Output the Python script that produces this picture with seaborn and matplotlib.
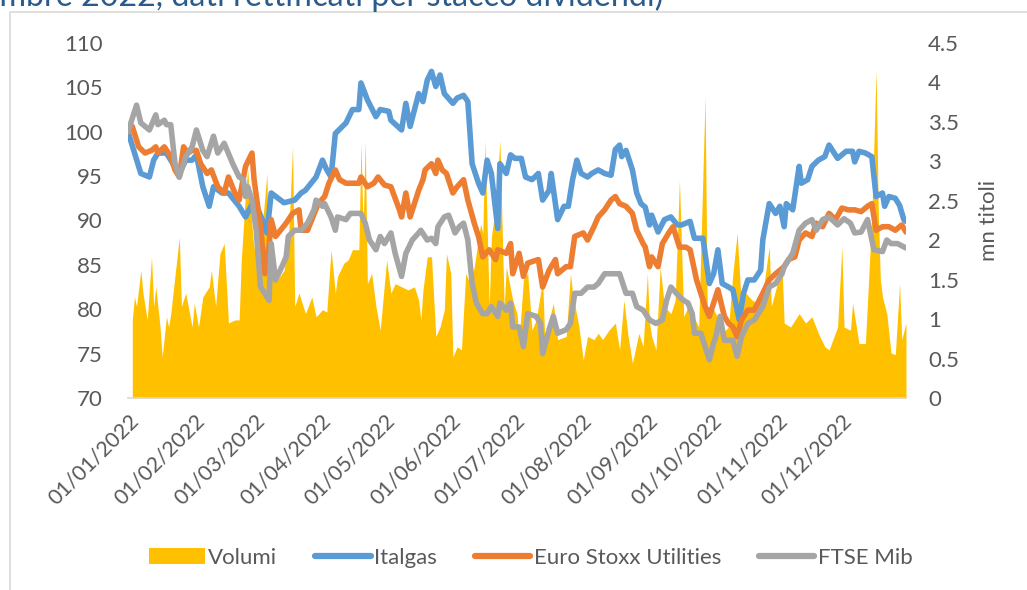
import pandas as pd
import matplotlib.pyplot as plt
import matplotlib.dates as mdates
from matplotlib.patches import Patch, Rectangle
from matplotlib.lines import Line2D
import seaborn as sns

inizio = pd.Timestamp("2022-01-01")

# giorni dall'1/1/2022 e valori (base 100)
italgas_giorni = [0, 6, 10, 12, 14, 18, 20, 24, 27, 30, 32, 35, 38, 40, 44, 47, 52, 55, 59, 63,
                  65, 67, 73, 78, 81, 83, 88, 91, 93, 95, 97, 102, 105, 108, 109, 112, 116, 118, 122, 123,
                  128, 130, 132, 136, 138, 140, 142, 144, 146, 148, 152, 154, 157, 159, 161, 164, 166, 168, 170, 173,
                  174, 177, 179, 181, 184, 186, 189, 192, 194, 197, 198, 201, 204, 206, 208, 210, 212, 215, 217, 220,
                  223, 226, 228, 230, 231, 233, 236, 238, 240, 242, 244, 245, 248, 251, 254, 257, 259, 263, 265, 269,
                  272, 274, 276, 278, 281, 283, 286, 288, 290, 293, 296, 297, 300, 303, 305, 307, 308, 311, 314, 315,
                  318, 320, 323, 326, 328, 332, 336, 339, 340, 342, 345, 348, 350, 353, 354, 356, 359, 361, 363, 364]
italgas = [100.0, 95.3, 94.9, 96.8, 97.6, 97.6, 96.8, 95.3, 96.8, 96.8, 97.4, 93.8, 91.6, 93.8, 93.1, 93.1, 91.6, 90.4, 92.3, 90.0,
           88.6, 93.1, 92.0, 92.3, 93.1, 93.4, 94.9, 96.8, 95.7, 94.9, 99.8, 101.0, 102.5, 102.5, 105.5, 103.6, 101.7, 102.5, 102.3, 101.3,
           100.2, 103.2, 100.6, 104.3, 103.4, 105.8, 106.8, 105.1, 106.4, 104.3, 103.2, 103.8, 104.1, 103.4, 96.4, 94.2, 93.1, 96.8, 95.3, 89.1,
           96.4, 95.3, 97.4, 97.0, 97.0, 94.9, 94.6, 95.3, 92.3, 93.4, 95.3, 90.1, 91.6, 91.6, 94.6, 96.8, 95.3, 94.9, 95.3, 95.7,
           95.3, 95.1, 98.0, 98.5, 97.2, 97.9, 95.7, 93.1, 91.9, 91.5, 89.5, 90.6, 88.7, 90.1, 90.4, 89.5, 89.5, 89.9, 88.0, 88.0,
           82.9, 84.0, 86.7, 82.9, 82.5, 82.2, 78.8, 81.8, 83.3, 83.3, 84.4, 87.8, 91.9, 90.8, 91.6, 89.3, 91.9, 91.2, 96.1, 94.2,
           94.6, 96.1, 96.8, 97.2, 98.5, 97.0, 97.8, 97.8, 96.6, 97.8, 97.6, 97.2, 92.7, 93.1, 91.6, 92.7, 92.5, 91.7, 90.1, 89.9]

stoxx_giorni = [0, 2, 5, 8, 11, 13, 14, 17, 20, 22, 24, 26, 28, 30, 32, 34, 37, 39, 42, 45,
                47, 50, 52, 55, 58, 59, 62, 64, 66, 67, 69, 74, 77, 80, 81, 84, 86, 89, 92, 94,
                97, 99, 102, 108, 109, 112, 115, 117, 120, 123, 127, 128, 130, 132, 136, 138, 139, 142, 144, 145,
                147, 149, 152, 154, 157, 159, 162, 164, 166, 169, 172, 173, 177, 179, 180, 183, 185, 187, 192, 194,
                197, 200, 201, 205, 207, 209, 213, 215, 218, 220, 223, 226, 228, 230, 233, 236, 238, 241, 242, 244,
                245, 248, 250, 253, 255, 258, 261, 263, 266, 268, 270, 272, 274, 276, 279, 281, 283, 285, 287, 290,
                293, 297, 300, 303, 305, 307, 309, 312, 314, 317, 320, 322, 325, 328, 331, 334, 337, 340, 343, 346,
                348, 350, 353, 356, 359, 362, 364]
stoxx = [100.0, 100.6, 98.3, 97.6, 97.9, 98.3, 97.6, 98.3, 97.2, 95.7, 94.9, 98.3, 97.6, 97.9, 97.9, 96.4, 95.3, 95.7, 93.8, 93.1,
         94.9, 93.1, 92.3, 96.1, 97.6, 94.6, 89.3, 84.0, 87.1, 90.1, 88.2, 89.7, 90.8, 91.2, 88.9, 88.9, 90.1, 91.9, 92.7, 94.2,
         95.7, 94.6, 94.2, 94.2, 94.9, 93.8, 94.2, 94.9, 94.0, 93.8, 91.2, 90.4, 93.1, 90.4, 93.4, 94.6, 95.7, 96.4, 95.3, 96.8,
         95.7, 95.3, 93.1, 93.8, 94.6, 92.3, 89.7, 88.2, 85.9, 86.7, 85.6, 86.7, 86.3, 87.4, 84.0, 86.3, 83.7, 85.2, 85.6, 82.5,
         84.4, 85.6, 84.0, 84.8, 84.8, 88.2, 88.6, 87.8, 89.3, 90.4, 91.2, 92.3, 92.7, 91.9, 91.6, 90.8, 88.9, 87.4, 87.0, 84.8,
         85.9, 84.8, 87.4, 88.6, 89.3, 87.0, 87.0, 86.7, 83.3, 81.8, 80.3, 79.2, 80.7, 82.2, 79.2, 78.4, 78.0, 76.9, 78.8, 79.9,
         79.9, 81.8, 83.3, 84.0, 84.4, 84.8, 85.6, 85.9, 87.8, 88.6, 88.2, 89.7, 89.3, 90.8, 90.1, 91.4, 91.2, 91.2, 91.0, 91.6,
         91.9, 88.9, 89.3, 89.3, 88.9, 89.5, 88.7]

ftse_giorni = [0, 4, 6, 10, 13, 14, 17, 18, 20, 22, 24, 27, 30, 32, 35, 37, 40, 42, 45, 49,
               52, 54, 55, 56, 58, 60, 62, 64, 66, 67, 69, 72, 74, 75, 78, 81, 84, 87, 88, 91,
               92, 95, 97, 98, 102, 104, 107, 109, 111, 113, 116, 118, 120, 123, 125, 128, 130, 133, 136, 137,
               140, 142, 144, 145, 148, 150, 152, 153, 155, 157, 159, 161, 163, 166, 168, 170, 173, 174, 177, 179,
               180, 183, 185, 187, 191, 193, 194, 197, 199, 201, 205, 207, 209, 212, 215, 218, 220, 223, 226, 230,
               233, 236, 238, 241, 244, 247, 250, 252, 254, 258, 260, 262, 264, 265, 268, 272, 274, 275, 277, 279,
               283, 285, 287, 290, 293, 297, 300, 303, 306, 307, 311, 314, 317, 320, 322, 325, 328, 332, 335, 338,
               340, 343, 346, 349, 353, 355, 357, 360, 364]
ftse = [100.0, 103.0, 101.0, 100.2, 101.9, 100.8, 101.3, 100.8, 100.8, 96.4, 94.9, 97.2, 98.3, 100.2, 97.9, 97.2, 99.5, 97.6, 98.7, 96.4,
        94.9, 94.6, 92.7, 93.8, 92.3, 88.9, 82.5, 81.8, 81.0, 87.4, 83.3, 84.8, 85.9, 88.2, 88.9, 88.9, 89.7, 91.2, 92.3, 91.6,
        91.9, 90.4, 88.9, 90.4, 90.1, 90.8, 90.8, 90.8, 89.7, 87.8, 86.7, 88.2, 87.4, 88.6, 86.3, 83.7, 86.3, 87.8, 88.6, 88.9,
        87.8, 88.0, 87.4, 89.3, 90.4, 90.6, 89.3, 88.6, 89.3, 89.7, 87.8, 82.9, 80.7, 79.5, 79.5, 80.3, 79.2, 80.7, 79.9, 80.7,
        78.0, 78.0, 75.8, 79.5, 79.2, 78.4, 75.0, 77.7, 79.2, 77.3, 77.7, 78.4, 81.8, 81.8, 82.5, 82.5, 82.9, 84.0, 84.0, 84.0,
        81.8, 81.8, 80.3, 79.9, 78.8, 78.4, 78.8, 81.0, 82.5, 81.4, 81.0, 80.7, 79.5, 77.3, 77.3, 74.3, 76.2, 76.9, 79.2, 76.5,
        76.5, 74.7, 76.9, 78.4, 78.8, 80.3, 82.5, 82.9, 84.0, 84.8, 86.3, 88.9, 89.7, 90.1, 88.9, 90.1, 90.4, 89.5, 90.2, 89.7,
        88.6, 88.7, 90.1, 86.7, 86.5, 87.8, 87.4, 87.4, 86.9]

# volumi scambiati (mn titoli)
volumi_giorni = [2, 3, 4, 6, 7, 9, 11, 12, 13, 15, 16, 18, 19, 20, 24, 25, 27, 30, 31, 33,
                 35, 38, 39, 41, 43, 45, 47, 50, 52, 53, 55, 56, 57, 59, 60, 62, 65, 66, 68, 70,
                 73, 75, 77, 78, 80, 83, 86, 88, 91, 93, 95, 97, 98, 101, 103, 105, 108, 109, 110, 111,
                 112, 114, 116, 118, 121, 123, 125, 128, 131, 134, 136, 137, 138, 140, 142, 144, 146, 148, 149, 151,
                 152, 154, 156, 158, 160, 162, 165, 166, 167, 169, 170, 172, 174, 176, 177, 180, 182, 183, 185, 187,
                 189, 191, 194, 195, 197, 199, 201, 205, 207, 208, 211, 213, 215, 218, 220, 222, 225, 228, 230, 232,
                 234, 236, 239, 241, 243, 244, 245, 247, 249, 251, 254, 256, 258, 260, 262, 264, 267, 270, 271, 273,
                 275, 278, 281, 283, 285, 287, 289, 292, 295, 297, 300, 301, 303, 306, 307, 310, 314, 317, 320, 323,
                 326, 328, 332, 334, 335, 338, 339, 342, 345, 348, 350, 351, 352, 353, 355, 357, 359, 361, 362, 364]
volumi = [0.99, 1.28, 1.16, 1.62, 1.33, 0.99, 1.79, 1.16, 1.41, 0.90, 0.52, 1.03, 0.90, 1.07, 2.04, 1.16, 1.33, 0.90, 1.20, 0.90,
          1.28, 1.41, 1.62, 1.16, 1.83, 1.96, 0.95, 0.99, 0.99, 1.75, 2.60, 2.90, 2.50, 1.88, 2.34, 1.92, 2.85, 1.58, 1.92, 1.50,
          1.62, 1.96, 3.19, 1.16, 1.33, 1.07, 1.28, 1.03, 1.12, 1.09, 1.88, 1.33, 1.54, 1.71, 1.75, 1.88, 1.88, 3.23, 2.17, 3.27,
          1.45, 1.58, 1.16, 0.86, 1.75, 1.33, 1.45, 1.41, 1.37, 1.41, 1.24, 0.99, 1.37, 1.79, 1.79, 0.78, 0.90, 1.12, 1.83, 1.58,
          0.52, 0.65, 0.61, 1.58, 1.45, 1.66, 2.21, 2.09, 3.27, 1.16, 2.04, 2.43, 3.27, 1.16, 1.66, 1.24, 1.07, 0.74, 1.50, 1.58,
          0.86, 0.99, 1.50, 0.74, 0.99, 1.20, 0.74, 0.78, 1.58, 1.33, 0.90, 0.48, 0.78, 0.74, 0.82, 0.74, 0.86, 0.95, 0.61, 1.24,
          0.78, 0.44, 0.82, 0.65, 1.58, 0.95, 0.78, 0.61, 1.66, 1.16, 1.07, 1.24, 2.76, 1.03, 1.16, 1.07, 0.90, 3.82, 1.16, 1.16,
          1.07, 0.82, 0.90, 1.58, 2.09, 1.16, 1.33, 1.24, 1.20, 1.33, 1.92, 1.16, 1.37, 1.66, 0.95, 0.90, 1.07, 0.95, 1.03, 0.82,
          0.65, 0.61, 0.90, 1.92, 0.90, 0.86, 1.20, 0.69, 0.69, 2.30, 4.16, 2.40, 1.50, 1.28, 1.07, 0.57, 0.55, 1.45, 0.74, 0.95]

serie = ["Italgas", "Euro Stoxx Utilities", "FTSE Mib"]
colori = {"Italgas": "#5B9BD5", "Euro Stoxx Utilities": "#ED7D31", "FTSE Mib": "#A5A5A5"}
giallo = "#FFC000"
grigio_testo = "#595959"

sns.set_theme(style="white")
plt.rcParams["font.family"] = ["Lato", "DejaVu Sans"]


def to_df(giorni, valori, nome):
    return pd.DataFrame({"data": inizio + pd.to_timedelta(giorni, unit="D"),
                         "valore": valori, "serie": nome})


linee = pd.concat([to_df(italgas_giorni, italgas, serie[0]),
                   to_df(stoxx_giorni, stoxx, serie[1]),
                   to_df(ftse_giorni, ftse, serie[2])], ignore_index=True)
vol = pd.DataFrame({"data": inizio + pd.to_timedelta(volumi_giorni, unit="D"), "volumi": volumi})

fig = plt.figure(figsize=(10.27, 5.90), dpi=100)
fig.add_artist(Rectangle((9.5 / 1027, -0.1), 1.2, 1 - 12.5 / 590 + 0.1, transform=fig.transFigure,
                         fill=False, edgecolor="#D9D9D9", linewidth=1.2))
# titolo tagliato in alto come nell'originale
fig.text(663 / 1027, 1 - 6.5 / 590,
         "(dal 1 gennaio al 30 dicembre 2022, dati rettificati per stacco dividendi)",
         ha="right", va="baseline", fontsize=23.2, color="#2B5B8C")

# area dei volumi (asse destro)
ax_vol = fig.add_axes([128 / 1027, 1 - 398 / 590, 778 / 1027, 355 / 590])
ax_vol.fill_between(vol["data"], 0, vol["volumi"], color=giallo, linewidth=0)

# linee (asse sinistro)
ax = ax_vol.twinx()
sns.lineplot(data=linee, x="data", y="valore", hue="serie", palette=colori, hue_order=serie,
             linewidth=4, estimator=None, sort=True, legend=False, ax=ax,
             solid_joinstyle="round", solid_capstyle="round")

ax_vol.yaxis.tick_right()
ax_vol.yaxis.set_label_position("right")
ax.yaxis.tick_left()
ax.yaxis.set_label_position("left")

ax_vol.set_xlim(inizio, pd.Timestamp("2022-12-31"))
ax_vol.set_ylim(0, 4.5)
ax_vol.set_yticks([i * 0.5 for i in range(10)])
ax_vol.set_yticklabels([f"{i * 0.5:g}" for i in range(10)])
ax.set_ylim(70, 110)
ax.set_yticks(range(70, 111, 5))
ax.set_ylabel("")
ax.set_xlabel("")
ax_vol.set_xlabel("")
ax_vol.set_ylabel("mn titoli", fontsize=16, color=grigio_testo, labelpad=14)

ax_vol.xaxis.set_major_locator(mdates.MonthLocator())
ax_vol.xaxis.set_major_formatter(mdates.DateFormatter("%d/%m/%Y"))
ax_vol.tick_params(axis="x", length=6, width=1, color="#D9D9D9", labelsize=15.5,
                   labelcolor=grigio_testo, pad=3)
for lbl in ax_vol.get_xticklabels():
    lbl.set_rotation(45)
    lbl.set_ha("right")
    lbl.set_va("top")
    lbl.set_rotation_mode("anchor")
ax_vol.tick_params(axis="y", length=0, pad=16, labelsize=16, labelcolor=grigio_testo)
ax.tick_params(axis="y", length=0, pad=18, labelsize=16, labelcolor=grigio_testo)

for a in (ax, ax_vol):
    for s in a.spines.values():
        s.set_visible(False)
ax_vol.spines["bottom"].set_visible(True)
ax_vol.spines["bottom"].set_color("#D9D9D9")
ax_vol.spines["bottom"].set_linewidth(1.2)

maniglie = [Patch(facecolor=giallo, edgecolor="none")] + [
    Line2D([0], [0], color=colori[s], linewidth=4.5, solid_capstyle="round") for s in serie]
fig.legend(maniglie, ["Volumi"] + serie, loc="center", bbox_to_anchor=(531 / 1027, 1 - 558 / 590),
           ncol=4, frameon=False, fontsize=16, labelcolor=grigio_testo, handlelength=2.5,
           handleheight=0.7, handletextpad=0.15, columnspacing=1.7)

fig.savefig("out.png", dpi=100)
